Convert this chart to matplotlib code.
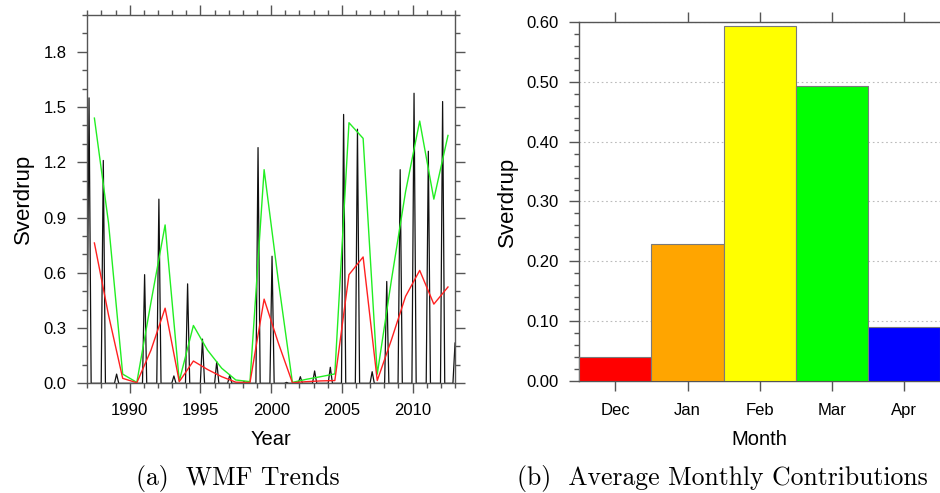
import numpy as np
import matplotlib.pyplot as plt
from matplotlib.ticker import MultipleLocator, FormatStrFormatter

# (a) WMF trends
# black line: winter peaks (decimal year, Sverdrup), zero in between
peak_years = [1987.12, 1988.13, 1989.07, 1991.05, 1992.06, 1993.12, 1994.09,
              1995.14, 1996.15, 1997.07, 1998.08, 1999.07, 2000.06, 2001.09,
              2002.06, 2003.07, 2004.18, 2005.12, 2006.10, 2007.14, 2008.17,
              2009.12, 2010.10, 2011.11, 2012.12, 2013.00]
peak_values = [1.55, 1.21, 0.05, 0.59, 1.00, 0.04, 0.54,
               0.24, 0.118, 0.045, 0.01, 1.28, 0.69, 0.005,
               0.036, 0.067, 0.087, 1.46, 1.38, 0.063, 0.553,
               1.16, 1.575, 1.26, 1.53, 0.22]

# yearly values, plotted at mid-year
years = list(range(1987, 2013))
green_values = [1.44, 0.87, 0.05, 0.005, 0.44, 0.86, 0.012, 0.314, 0.18, 0.082,
                0.018, 0.009, 1.16, 0.56, 0.005, 0.022, 0.036, 0.051, 1.415, 1.33,
                0.05, 0.56, 1.04, 1.424, 1.00, 1.346]
red_values = [0.762, 0.37, 0.027, 0.003, 0.18, 0.408, 0.009, 0.121, 0.075, 0.036,
              0.006, 0.004, 0.457, 0.22, 0.003, 0.009, 0.013, 0.015, 0.59, 0.686,
              0.015, 0.236, 0.472, 0.613, 0.43, 0.523]

# (b) average monthly contributions
months = ["Dec", "Jan", "Feb", "Mar", "Apr"]
month_values = [0.040, 0.229, 0.593, 0.493, 0.0905]
month_colors = ["#ff0000", "#ffa500", "#ffff00", "#00ff00", "#0000ff"]

SANS = "Liberation Sans"
AXCOL = "#555555"

plt.rcParams["font.family"] = SANS


def style_ticks(ax):
    for s in ax.spines.values():
        s.set_color(AXCOL)
        s.set_linewidth(1.0)
    ax.tick_params(which="major", direction="out", length=7, width=1,
                   color=AXCOL, labelsize=12, pad=8)
    ax.tick_params(which="minor", direction="out", length=3.5, width=1,
                   color=AXCOL)


fig = plt.figure(figsize=(9.4, 4.93), dpi=100)

# ---- left panel
ax1 = fig.add_axes([0.0929, 0.2225, 0.3912, 0.7471])

spike_half = 0.15
bx, by = [], []
for t, v in zip(peak_years, peak_values):
    bx += [t - spike_half, t, t + spike_half]
    by += [0.0, v, 0.0]
ax1.plot(bx, by, color="#111111", lw=0.9)

mid = np.array(years) + 0.5
ax1.plot(mid, green_values, color="#22ee22", lw=1.0)
ax1.plot(mid, red_values, color="#ff2020", lw=1.0)

ax1.set_xlim(1987.0, 2013.0)
ax1.set_ylim(0, 2.0)
ax1.xaxis.set_major_locator(MultipleLocator(5))
ax1.xaxis.set_minor_locator(MultipleLocator(1))
ax1.yaxis.set_minor_locator(MultipleLocator(0.1))
ax1.set_yticks([0, 0.3, 0.6, 0.9, 1.2, 1.5, 1.8])
ax1.yaxis.set_major_formatter(FormatStrFormatter("%.1f"))
style_ticks(ax1)
ax1.tick_params(axis="x", which="major", pad=7.5)
ax1.tick_params(which="both", top=True, right=True)
ax1.set_xlabel("Year", fontsize=14.5, labelpad=8.5)
ax1.set_ylabel("Sverdrup", fontsize=16, labelpad=7)

# ---- right panel
ax2 = fig.add_axes([0.6163, 0.2266, 0.3837, 0.7294])
pos = np.arange(1, len(months) + 1)
ax2.bar(pos, month_values, width=1.0, color=month_colors,
        edgecolor="#7a7a7a", linewidth=0.8, zorder=3)
ax2.set_xlim(0.5, len(months) + 0.5)
ax2.set_ylim(0, 0.6)
ax2.set_xticks(pos)
ax2.set_xticklabels(months)
ax2.yaxis.set_major_locator(MultipleLocator(0.1))
ax2.yaxis.set_minor_locator(MultipleLocator(0.02))
ax2.yaxis.set_major_formatter(FormatStrFormatter("%.2f"))
ax2.grid(axis="y", which="major", color="#bbbbbb", linestyle=(0, (1.5, 2.5)),
         linewidth=0.8, zorder=0)
style_ticks(ax2)
ax2.tick_params(axis="x", which="both", top=True)
ax2.tick_params(axis="x", which="major", pad=8.5)
ax2.spines["right"].set_visible(False)
ax2.set_xlabel("Month", fontsize=14.5, labelpad=8.5)
ax2.set_ylabel("Sverdrup", fontsize=16, labelpad=6)

# ---- captions
fig.text(237.5 / 940, 1 - 478 / 493, "(a)  WMF Trends", family="cmr10",
         fontsize=18.5, ha="center", va="center")
fig.text(722 / 940, 1 - 478 / 493, "(b)  Average Monthly Contributions",
         family="cmr10", fontsize=18.5, ha="center", va="center")

fig.savefig("out.png", dpi=100)
